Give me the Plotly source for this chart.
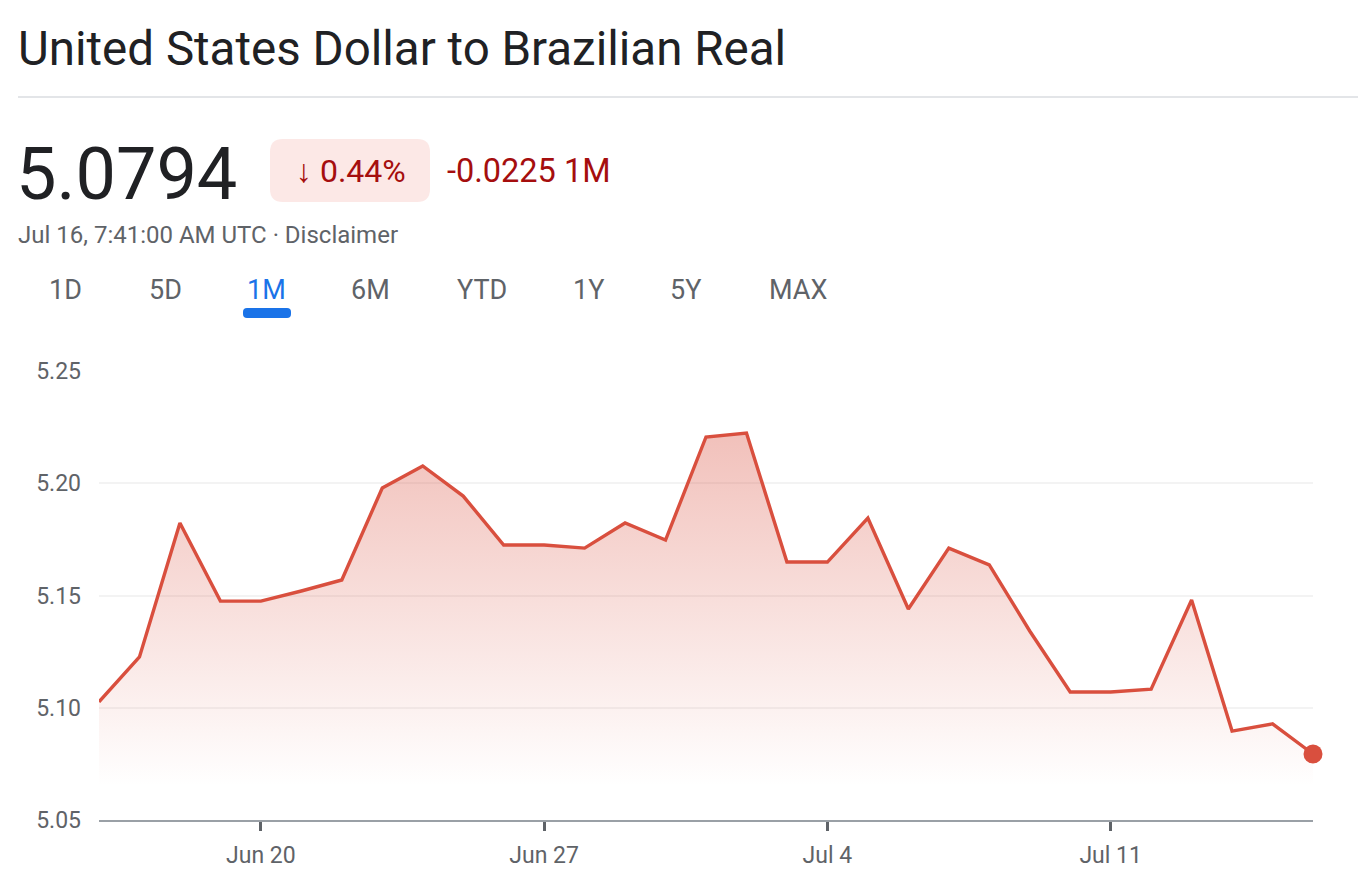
import plotly.graph_objects as go

# ---------------- data ----------------
dates = [
    "2024-06-16", "2024-06-17", "2024-06-18", "2024-06-19", "2024-06-20",
    "2024-06-21", "2024-06-22", "2024-06-23", "2024-06-24", "2024-06-25",
    "2024-06-26", "2024-06-27", "2024-06-28", "2024-06-29", "2024-06-30",
    "2024-07-01", "2024-07-02", "2024-07-03", "2024-07-04", "2024-07-05",
    "2024-07-06", "2024-07-07", "2024-07-08", "2024-07-09", "2024-07-10",
    "2024-07-11", "2024-07-12", "2024-07-13", "2024-07-14", "2024-07-15",
    "2024-07-16",
]
rates = [
    5.1026, 5.1226, 5.1823, 5.1475, 5.1475,
    5.1520, 5.1569, 5.1979, 5.2077, 5.1943,
    5.1725, 5.1725, 5.1711, 5.1823, 5.1747,
    5.2206, 5.2224, 5.1649, 5.1649, 5.1845,
    5.1440, 5.1711, 5.1636, 5.1342, 5.1070,
    5.1070, 5.1083, 5.1480, 5.0896, 5.0928,
    5.0794,
]
x_tick_vals = ["2024-06-20", "2024-06-27", "2024-07-04", "2024-07-11"]
x_tick_text = ["Jun 20", "Jun 27", "Jul 4", "Jul 11"]
y_tick_vals = [5.05, 5.10, 5.15, 5.20, 5.25]
y_tick_text = ["5.05", "5.10", "5.15", "5.20", "5.25"]
tabs = ["1D", "5D", "1M", "6M", "YTD", "1Y", "5Y", "MAX"]
title_text = "United States Dollar to Brazilian Real"
price_text = "5.0794"
pct_text = "↓ 0.44%"
change_text = "-0.0225 1M"
stamp_text = "Jul 16, 7:41:00 AM UTC · Disclaimer"

# ---------------- layout geometry ----------------
W, H = 1358, 894
L, R, T, B = 99, 45, 371, 74
PW, PH = W - L - R, H - T - B

def px(x):
    return (x - L) / PW

def py(y):
    return (H - B - y) / PH

RED = "#d94f3e"
FONT = "Roboto, Arial, sans-serif"

fig = go.Figure()

fig.add_trace(go.Scatter(
    x=dates, y=rates, mode="lines",
    line=dict(color=RED, width=3.4),
    fill="tozeroy",
    fillgradient=dict(
        type="vertical",
        colorscale=[[0, "rgba(217,79,62,0)"], [1, "rgba(217,79,62,0.36)"]],
        start=5.065, stop=5.225,
    ),
    hoverinfo="skip", showlegend=False,
))
fig.add_trace(go.Scatter(
    x=[dates[-1]], y=[rates[-1]], mode="markers",
    marker=dict(color=RED, size=19),
    hoverinfo="skip", showlegend=False, cliponaxis=False,
))

annotations = []
annotations.append(dict(
    text=title_text, x=px(16), y=py(49), xref="paper", yref="paper",
    xanchor="left", yanchor="middle", showarrow=False,
    font=dict(family=FONT, size=47.5, color="#202124"),
))
annotations.append(dict(
    text=price_text, x=px(14), y=py(174), xref="paper", yref="paper",
    xanchor="left", yanchor="middle", showarrow=False,
    font=dict(family=FONT, size=72, color="#202124"),
))
annotations.append(dict(
    text=pct_text, x=px(351), y=py(171), xref="paper", yref="paper",
    xanchor="center", yanchor="middle", showarrow=False,
    font=dict(family=FONT, size=32, color="#a50e0e"),
))
annotations.append(dict(
    text=change_text, x=px(445), y=py(171), xref="paper", yref="paper",
    xanchor="left", yanchor="middle", showarrow=False,
    font=dict(family=FONT, size=32.5, color="#a50e0e"),
))
annotations.append(dict(
    text=stamp_text, x=px(16), y=py(235), xref="paper", yref="paper",
    xanchor="left", yanchor="middle", showarrow=False,
    font=dict(family=FONT, size=24, color="#5f6368"),
))
tab_centers = [65, 165, 266, 370, 482, 588, 685, 798]
for t, cx in zip(tabs, tab_centers):
    annotations.append(dict(
        text=t, x=px(cx), y=py(290), xref="paper", yref="paper",
        xanchor="center", yanchor="middle", showarrow=False,
        font=dict(family=FONT, size=27,
                  color="#1a73e8" if t == "1M" else "#5f6368"),
    ))

def rrect(x0, y0, x1, y1, r):
    X0, X1 = px(x0), px(x1)
    Y0, Y1 = py(y0), py(y1)
    rx, ry = r / PW, r / PH
    return (f"M {X0+rx},{Y0} L {X1-rx},{Y0} Q {X1},{Y0} {X1},{Y0-ry} "
            f"L {X1},{Y1+ry} Q {X1},{Y1} {X1-rx},{Y1} L {X0+rx},{Y1} "
            f"Q {X0},{Y1} {X0},{Y1+ry} L {X0},{Y0-ry} Q {X0},{Y0} {X0+rx},{Y0} Z")

shapes = [
    dict(type="line", xref="paper", yref="paper",
         x0=px(18), x1=px(1358), y0=py(97), y1=py(97),
         line=dict(color="#e3e5e8", width=2)),
    dict(type="path", xref="paper", yref="paper",
         path=rrect(270, 139, 430, 202, 13),
         fillcolor="#fce8e6", line=dict(width=0), layer="below"),
    dict(type="path", xref="paper", yref="paper",
         path=rrect(243, 308, 291, 318, 4),
         fillcolor="#1a73e8", line=dict(width=0)),
]

fig.update_layout(
    width=W, height=H,
    margin=dict(l=L, r=R, t=T, b=B, pad=0),
    paper_bgcolor="white", plot_bgcolor="white",
    annotations=annotations, shapes=shapes,
    xaxis=dict(
        type="date", range=[dates[0], dates[-1]],
        tickvals=x_tick_vals, ticktext=x_tick_text,
        ticks="outside", ticklen=9, tickwidth=3, tickcolor="#5f6368",
        showgrid=False, zeroline=False,
        showline=True, linecolor="#9aa0a6", linewidth=2,
        tickfont=dict(family=FONT, size=23, color="#5f6368"),
        ticklabelstandoff=4,
        fixedrange=True,
    ),
    yaxis=dict(
        range=[5.05, 5.25],
        tickvals=y_tick_vals, ticktext=y_tick_text,
        showgrid=True, gridcolor="#f3f3f3", gridwidth=2,
        zeroline=False, showline=False, ticks="",
        ticklabelstandoff=17,
        tickfont=dict(family=FONT, size=23, color="#5f6368"),
        fixedrange=True,
    ),
)

fig.write_html("out.html", config=dict(displayModeBar=False))
